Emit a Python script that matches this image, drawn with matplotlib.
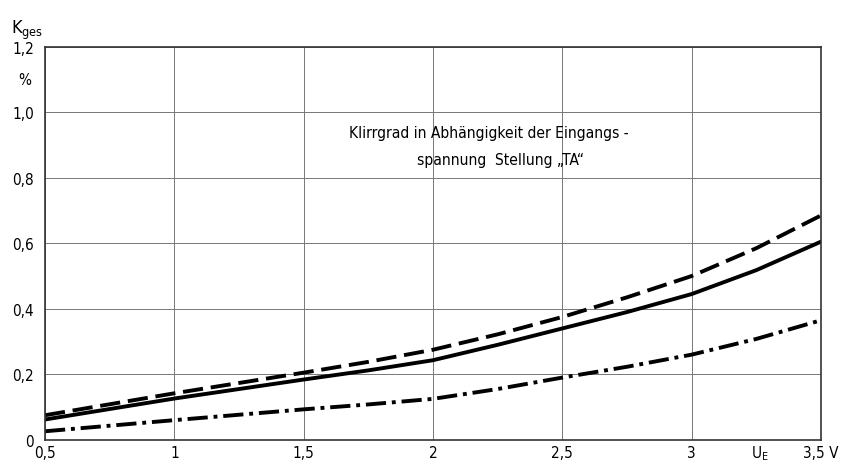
import matplotlib.pyplot as plt
import numpy as np

# Klirrgrad over Eingangsspannung
u_e = [0.5, 1.0, 1.5, 1.75, 2.0, 2.25, 2.5, 2.75, 3.0, 3.25, 3.5]
k_dashed = [0.075, 0.142, 0.205, 0.238, 0.275, 0.322, 0.375, 0.435, 0.50, 0.585, 0.685]
k_solid = [0.062, 0.126, 0.184, 0.212, 0.243, 0.290, 0.340, 0.390, 0.445, 0.518, 0.605]
k_dashdot = [0.026, 0.060, 0.093, 0.108, 0.125, 0.155, 0.190, 0.223, 0.260, 0.308, 0.365]

x_ticks = [0.5, 1, 1.5, 2, 2.5, 3, 3.5]
x_labels = ["0,5", "1", "1,5", "2", "2,5", "3", "3,5 V"]
y_ticks = [0, 0.2, 0.4, 0.6, 0.8, 1.0, 1.2]
y_labels = ["0", "0,2", "0,4", "0,6", "0,8", "1,0", "1,2"]

plt.rcParams['font.family'] = ['DejaVu Sans']
plt.rcParams['font.stretch'] = 'condensed'

fig = plt.figure(figsize=(8.49, 4.64), dpi=100)
ax = fig.add_axes([0.053, 0.05, 0.914, 0.847])

ax.plot(u_e, k_dashed, color='black', lw=2.8, dashes=(5.2, 2.0))
ax.plot(u_e, k_solid, color='black', lw=2.8)
ax.plot(u_e, k_dashdot, color='black', lw=2.8, dashes=(5.2, 1.5, 1.0, 1.5))

ax.set_xlim(0.5, 3.5)
ax.set_ylim(0, 1.2)
ax.set_xticks(x_ticks)
ax.set_xticklabels(x_labels, fontsize=11, stretch='condensed')
ax.set_yticks(y_ticks)
ax.set_yticklabels(y_labels, fontsize=11, stretch='condensed')
ax.tick_params(axis='x', length=0, pad=4)
ax.tick_params(axis='y', length=0, pad=8)
ax.grid(True, color='#777777', lw=0.7)
for s in ax.spines.values():
    s.set_color('#333333')
    s.set_linewidth(1.2)

# Achsbeschriftungen
fig.text(0.013, 0.935, "K$_{\\mathrm{ges}}$", fontsize=13, ha='left', va='center')
fig.text(0.037, 0.827, "%", fontsize=11, ha='right', va='center')
fig.text(0.895, 0.003, "U$_\\mathrm{E}$", fontsize=11, ha='center', va='bottom')

ax.text(1.675, 0.939, "Klirrgrad in Abhängigkeit der Eingangs -", fontsize=11.2,
        ha='left', va='center', stretch='condensed')
ax.text(1.94, 0.856, "spannung  Stellung „TA“", fontsize=11.2,
        ha='left', va='center', stretch='condensed')

fig.savefig("out.png", dpi=100)
